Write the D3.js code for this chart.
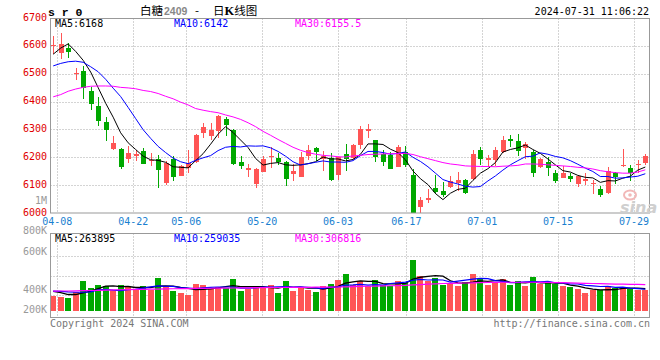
<!DOCTYPE html>
<html><head><meta charset="utf-8">
<script src="https://cdn.jsdelivr.net/npm/d3@7"></script>
<style>body{margin:0;background:#fff}svg{display:block}</style>
</head><body>
<svg id="c" width="660" height="360"></svg>
<script>
// ---------------- DATA ----------------
const dates = ["04-03","04-08","04-09","04-10","04-11","04-12","04-15","04-16","04-17","04-18","04-19","04-22","04-23","04-24","04-25","04-26","04-29","04-30",
"05-06","05-07","05-08","05-09","05-10","05-13","05-14","05-15","05-16","05-17","05-20","05-21","05-22","05-23","05-24","05-27","05-28","05-29","05-30","05-31",
"06-03","06-04","06-05","06-06","06-07","06-11","06-12","06-13","06-14","06-17","06-18","06-19","06-20","06-21","06-24","06-25","06-26","06-27","06-28",
"07-01","07-02","07-03","07-04","07-05","07-08","07-09","07-10","07-11","07-12","07-15","07-16","07-17","07-18","07-19","07-22","07-23","07-24","07-25","07-26","07-29","07-30","07-31"];

const open = [6598,6576,6594,6499,6510,6439,6384,6327,6231,6231,
6193,6203,6222,6186,6193,6108,6193,6134,6160,6182,
6286,6276,6295,6336,6298,6184,6153,6103,6148,6201,
6198,6184,6140,6130,6205,6232,6195,6198,6135,6213,
6196,6244,6294,6262,6212,6208,6166,6218,6137,6023,
6048,6089,6079,6094,6109,6118,6122,6226,6190,6190,
6219,6267,6260,6232,6220,6164,6183,6142,6125,6133,
6104,6114,6104,6085,6073,6142,6167,6162,6173,6181];
const high = [6635,6647,6610,6520,6529,6452,6416,6344,6277,6233,
6241,6225,6234,6217,6208,6185,6205,6171,6226,6284,
6324,6322,6353,6346,6302,6205,6176,6160,6205,6236,
6215,6187,6175,6220,6245,6238,6222,6214,6202,6249,
6246,6311,6321,6263,6227,6220,6244,6240,6158,6058,
6085,6135,6110,6133,6147,6121,6226,6237,6208,6238,
6278,6280,6284,6255,6227,6197,6200,6154,6167,6144,
6136,6142,6120,6096,6166,6148,6228,6172,6192,6212];
const low = [6570,6552,6556,6476,6408,6368,6313,6260,6225,6159,
6181,6187,6175,6170,6089,6100,6115,6133,6145,6178,
6270,6261,6268,6275,6173,6157,6128,6088,6147,6160,
6172,6097,6116,6129,6190,6187,6150,6115,6118,6152,
6195,6230,6268,6183,6170,6158,6165,6166,6000,6000,
6035,6068,6059,6090,6078,6070,6120,6174,6170,6170,
6217,6238,6205,6193,6131,6160,6134,6107,6124,6113,
6095,6101,6068,6058,6068,6105,6165,6115,6144,6173];
const close = [6602,6608,6579,6503,6447,6392,6331,6298,6253,6164,
6216,6211,6176,6190,6154,6180,6128,6169,6181,6280,
6308,6298,6349,6315,6177,6169,6163,6158,6193,6205,
6184,6123,6150,6202,6226,6220,6205,6117,6200,6193,
6244,6300,6302,6202,6184,6159,6238,6172,6001,6047,
6054,6074,6065,6116,6118,6073,6213,6193,6199,6226,
6263,6259,6224,6248,6145,6193,6161,6116,6143,6123,
6133,6123,6107,6066,6149,6130,6173,6142,6176,6206];

const ma5 = [6570,6592,6607,6580,6548,6506,6450,6394,6344,6288,
6252,6228,6204,6191,6189,6182,6166,6164,6162,6188,
6213,6247,6283,6310,6289,6262,6235,6196,6172,6178,
6181,6173,6171,6173,6177,6184,6201,6194,6194,6187,
6192,6211,6248,6248,6246,6229,6217,6191,6151,6123,
6102,6070,6048,6071,6085,6089,6117,6143,6159,6181,
6219,6228,6234,6244,6228,6214,6194,6173,6152,6147,
6135,6128,6126,6110,6116,6115,6125,6132,6154,6165];
const ma10 = [6528,6537,6543,6545,6541,6525,6507,6480,6448,6418,
6379,6339,6299,6268,6239,6217,6197,6184,6177,6189,
6198,6206,6224,6236,6239,6237,6241,6240,6241,6234,
6221,6204,6184,6172,6177,6182,6187,6183,6183,6182,
6188,6206,6221,6221,6217,6211,6214,6219,6200,6185,
6166,6143,6120,6111,6104,6096,6093,6095,6115,6133,
6154,6173,6188,6202,6204,6216,6211,6203,6198,6188,
6175,6161,6149,6131,6131,6125,6126,6129,6132,6141];
const ma30 = [6417,6425,6437,6445,6451,6455,6456,6456,6455,6451,
6449,6446,6440,6436,6429,6419,6410,6398,6388,6375,
6369,6364,6360,6352,6345,6336,6324,6310,6293,6279,
6264,6250,6236,6225,6217,6211,6207,6205,6202,6201,
6205,6207,6210,6211,6212,6213,6213,6214,6210,6202,
6195,6188,6181,6176,6173,6169,6168,6167,6167,6166,
6168,6169,6171,6176,6176,6175,6173,6171,6169,6167,
6164,6162,6158,6152,6148,6145,6143,6143,6147,6155];

const volume = [187000,179000,169000,231000,347000,272000,306000,292000,251000,306000,
279000,258000,292000,251000,374000,292000,244000,224000,203000,313000,
303000,265000,282000,272000,364000,244000,265000,279000,279000,306000,
221000,347000,244000,285000,251000,231000,292000,313000,354000,415000,
300000,340000,290000,350000,300000,290000,340000,320000,560000,400000,
340000,370000,300000,320000,290000,330000,420000,360000,300000,330000,
360000,300000,340000,290000,380000,310000,320000,310000,290000,280000,
260000,220000,250000,250000,290000,270000,280000,260000,255000,255000];
const volMa5 = [238,225,205,205,223,240,265,290,294,285,
287,277,277,277,291,293,291,277,267,255,
257,262,273,287,297,285,285,285,286,275,
270,286,279,281,270,272,261,274,288,321,
335,344,340,339,316,314,314,320,362,382,
392,398,394,346,324,322,332,344,340,348,
354,330,326,324,334,324,328,322,322,302,
292,272,260,252,254,256,268,270,271,264];
const volMa10 = [240,238,232,228,228,232,252,258,250,245,
255,259,271,284,293,289,289,277,272,266,
274,278,282,282,282,270,271,274,280,281,
284,286,282,283,278,274,266,280,284,301,
303,308,301,307,302,318,325,332,351,361,
354,356,354,333,343,352,362,371,367,347,
339,326,329,334,337,336,341,326,324,313,
313,298,294,287,288,279,280,271,266,259];
const volMa30 = [240,241,241,242,244,246,248,250,252,254,
256,257,258,260,261,263,264,265,266,267,
268,269,270,271,272,273,274,275,276,277,
277,278,278,279,279,280,280,281,282,284,
286,288,290,292,294,295,297,299,303,307,
311,315,318,320,322,323,325,327,329,330,
331,331,331,331,331,330,329,328,326,324,
322,320,318,316,314,312,311,309,308,307];

const priceTicks = [6700,6600,6500,6400,6300,6200,6100,6000];
const xTickDates = ["04-08","04-22","05-06","05-20","06-03","06-17","07-01","07-15","07-29"];
const volTicks = [800000,600000,400000,200000];
const volTickLabels = ["800K","600K","400K","200K"];
const priceMaLabels = ["MA5:6168","MA10:6142","MA30:6155.5"];
const volMaLabels = ["MA5:263895","MA10:259035","MA30:306816"];

// ---------------- LAYOUT ----------------
const P = {l:50.5, r:649.5, t:18.5, b:213};
const V = {t:233.5, b:317.5};
const RED = "#ff5555", GREEN = "#00a800";
const MONO = "'DejaVu Sans Mono','Liberation Mono',monospace";
const maColors = ["#000000","#0000ff","#ff00ff"];
const maX = [55, 174, 295];

const svg = d3.select("#c");
const idx = d3.range(dates.length);
const x = d3.scaleLinear().domain([0, dates.length-1]).range([53.2, 645.3]);
const xg = d3.scaleLinear().domain([dates.indexOf("04-08"), dates.indexOf("07-29")]).range([57.3, 634]);
const y = d3.scaleLinear().domain([6000,6700]).range([213,18]);
const vy = d3.scaleLinear().domain([0,800000]).range([314.5,236.5]);
const volBarBottom = 310.5;
const cx = i => Math.round(x(i));

// grid
const grid = svg.append("g").attr("stroke","#a8a8a8").attr("stroke-dasharray","1,2").attr("stroke-width",1);
priceTicks.filter(t => t>6000 && t<6700).forEach(t => {
  const yy = Math.round(y(t))+0.5;
  grid.append("line").attr("x1",P.l).attr("x2",P.r).attr("y1",yy).attr("y2",yy);
});
xTickDates.forEach(d => {
  const xx = Math.round(xg(dates.indexOf(d)))+0.5;
  grid.append("line").attr("x1",xx).attr("x2",xx).attr("y1",P.t).attr("y2",P.b);
  grid.append("line").attr("x1",xx).attr("x2",xx).attr("y1",V.t).attr("y2",V.b);
});
volTicks.slice(1).forEach(t => {
  const yy = Math.round(vy(t))+0.5;
  grid.append("line").attr("x1",P.l).attr("x2",P.r).attr("y1",yy).attr("y2",yy);
});

// candles
const cg = svg.append("g").attr("shape-rendering","crispEdges");
idx.forEach(i => {
  const up = close[i] >= open[i];
  const col = up ? RED : GREEN;
  const c = cx(i);
  cg.append("line").attr("x1",c+0.5).attr("x2",c+0.5)
    .attr("y1",y(high[i])).attr("y2",y(low[i])).attr("stroke",col);
  const top = Math.round(y(Math.max(open[i],close[i])));
  const bot = Math.round(y(Math.min(open[i],close[i])));
  cg.append("rect").attr("x",c-2).attr("width",5)
    .attr("y",top).attr("height",Math.max(1,bot-top)).attr("fill",col);
});

// price MAs
const line = arr => d3.line().x((d,i)=>x(i)).y(d=>y(d))(arr);
[ma5,ma10,ma30].forEach((arr,k) => {
  svg.append("path").attr("d",line(arr)).attr("fill","none")
    .attr("stroke",maColors[k]).attr("stroke-width",1);
});

// volume bars
const vg = svg.append("g").attr("shape-rendering","crispEdges");
idx.forEach(i => {
  const up = close[i] >= open[i];
  const top = Math.round(vy(volume[i]));
  vg.append("rect").attr("x",cx(i)-3).attr("width",6)
    .attr("y",top).attr("height",volBarBottom-top).attr("fill",up?RED:GREEN);
});
const vline = arr => d3.line().x((d,i)=>x(i)).y(d=>vy(d*1000))(arr);
[volMa5,volMa10,volMa30].forEach((arr,k) => {
  svg.append("path").attr("d",vline(arr)).attr("fill","none")
    .attr("stroke",maColors[k]).attr("stroke-width",k===0?1.3:1.2);
});

// borders
svg.append("rect").attr("x",P.l).attr("y",P.t).attr("width",P.r-P.l).attr("height",P.b-P.t)
  .attr("fill","none").attr("stroke","#999");
svg.append("rect").attr("x",P.l).attr("y",V.t).attr("width",P.r-P.l).attr("height",V.b-V.t)
  .attr("fill","none").attr("stroke","#999");

// text helpers
const txt = (xx,yy,s,o={}) => svg.append("text").attr("x",xx).attr("y",yy).text(s)
  .attr("font-family",o.ff||MONO).attr("font-size",o.fs||10).attr("fill",o.fill||"#000")
  .attr("text-anchor",o.anchor||"start").attr("font-weight",o.fw||"normal");

// price axis labels
priceTicks.forEach(t => txt(47, y(t)+2.5, String(t), {anchor:"end", fill:"#e00000"}));
txt(47, y(6000)-9, "1M", {anchor:"end", fill:"#999"});
// volume axis labels (Sina places the lower two labels below their lines)
const volLabelShift = [-2.5, -1, 17.5, 18];
volTicks.forEach((t,k) => txt(47, vy(t)+volLabelShift[k], volTickLabels[k], {anchor:"end", fill:"#999"}));
// x labels
xTickDates.forEach(d => txt(xg(dates.indexOf(d)), 225, d, {anchor:"middle", fill:"#1a7fd0"}));

// MA labels
priceMaLabels.forEach((s,k) => txt(maX[k], 27, s, {fill:maColors[k]}));
volMaLabels.forEach((s,k) => txt(maX[k], 242, s, {fill:maColors[k]}));

// header
txt(48, 16, "s r 0", {ff:"'Liberation Mono',monospace", fs:11.5, fw:"bold"});
const title = svg.append("text").attr("y",14.5).attr("font-size",11.5)
  .attr("font-family","'Noto Sans CJK SC',sans-serif");
title.append("tspan").attr("x",140).text("白糖");
title.append("tspan").attr("x",164).attr("fill","#888").attr("font-family","'Liberation Sans',sans-serif")
  .attr("font-size",10.5).attr("font-weight","bold").text("2409");
title.append("tspan").attr("x",195).text("-");
title.append("tspan").attr("x",213).text("日");
title.append("tspan").attr("font-weight","bold").attr("font-family","'Liberation Serif',serif").attr("font-size",12.5).text("K");
title.append("tspan").text("线图");
txt(649, 15, "2024-07-31 11:06:22", {anchor:"end"});

// footer
txt(50, 327, "Copyright 2024 SINA.COM", {fill:"#777"});
txt(650, 327, "http://finance.sina.com.cn", {anchor:"end", fill:"#777"});

// sina watermark
svg.append("ellipse").attr("cx",630).attr("cy",195).attr("rx",6).attr("ry",4.5)
  .attr("fill","none").attr("stroke","#f2b8b8").attr("stroke-width",2);
svg.append("circle").attr("cx",630).attr("cy",195).attr("r",1.8).attr("fill","#f2b8b8");
txt(620, 213, "sina", {ff:"'DejaVu Sans',sans-serif", fs:16, fw:"bold", fill:"#cfcfcf"})
  .attr("font-style","italic");
</script>
</body></html>
